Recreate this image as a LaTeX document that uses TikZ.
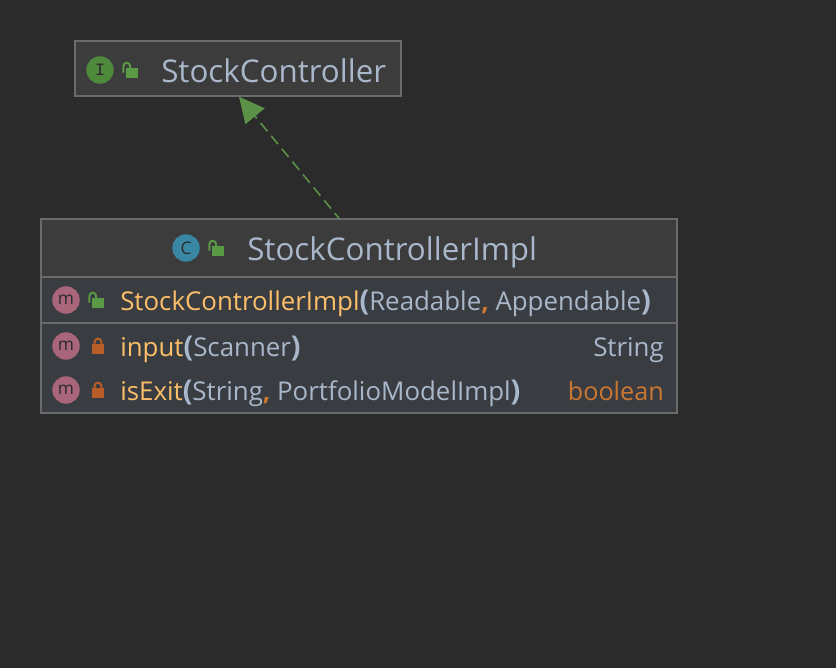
\documentclass[tikz,border=0pt]{standalone}
\usepackage{fontspec}
\setmainfont{Open Sans}
\usetikzlibrary{arrows.meta}
\definecolor{bgdark}{HTML}{2B2B2B}
\definecolor{headfill}{HTML}{3C3C3C}
\definecolor{rowfill}{HTML}{393C40}
\definecolor{edgegrey}{HTML}{6A6A6A}
\definecolor{namegrey}{HTML}{A9B7CB}
\definecolor{methyellow}{HTML}{FCBF6A}
\definecolor{kwdorange}{HTML}{CC7832}
\definecolor{lockgreen}{HTML}{5A9A45}
\definecolor{lockorange}{HTML}{B85C28}
\definecolor{arrowgreen}{HTML}{5C9148}
\definecolor{ifacegreen}{HTML}{4F8A3C}
\definecolor{classteal}{HTML}{3A87A3}
\definecolor{methrose}{HTML}{A9667A}
\tikzset{
  boxpart/.style={draw=edgegrey,line width=1pt,inner sep=0pt},
  headpart/.style={boxpart,fill=headfill},
  rowpart/.style={boxpart,fill=rowfill},
  titletext/.style={inner sep=0pt,anchor=base west,text=namegrey,font=\fontsize{23.5}{28}\selectfont},
  rowtext/.style={inner sep=0pt,anchor=base west,text=namegrey,font=\fontsize{19.4}{23}\selectfont},
  typetext/.style={rowtext,anchor=base east},
  badge/.style={circle,inner sep=0pt,minimum size=20.6pt,text=bgdark,font=\fontsize{13}{15}\selectfont},
  openlock/.pic={
    \fill[lockgreen] (0,0) rectangle (12,-10);
    \draw[lockgreen,line width=1.5pt] (-2.6,-5.5) -- (-2.6,-12) arc[start angle=180,end angle=360,radius=3.3] -- (4,-10);
  },
  closedlock/.pic={
    \fill[lockorange] (0,0) rectangle (12,-10.5);
    \draw[lockorange,line width=1.5pt] (2.6,-10) -- (2.6,-12) arc[start angle=180,end angle=360,radius=3.4] -- (9.4,-10);
  }
}
\newcommand{\nameb}[1]{\textcolor{methyellow}{#1}}
\newcommand{\parb}[1]{{\fontsize{21.5}{23}\selectfont\textbf{#1}}}
\newcommand{\comb}{\textcolor{kwdorange}{\textbf{,}}}
\begin{document}
\begin{tikzpicture}[x=0.75pt,y=-0.75pt]
\fill[bgdark] (0,0) rectangle (836,668);
\useasboundingbox (0,0) rectangle (836,668);
% top box
\node[headpart,minimum width=244.5pt,minimum height=41.25pt] (ctrl) at (238,68.5) {};
\node[badge,fill=ifacegreen] (ctrlicon) at (100,70) {\fontspec{Liberation Mono}I};
\pic at (126,78) {openlock};
\node[titletext] (ctrlname) at (161,82) {StockController};
% bottom box
\node[headpart,minimum width=477pt,minimum height=43.5pt] (impl) at (359,248) {};
\node[rowpart,minimum width=477pt,minimum height=34.5pt] (ctor) at (359,300) {};
\node[rowpart,minimum width=477pt,minimum height=67.5pt] (meth) at (359,368) {};
\node[badge,fill=classteal] (implicon) at (186,248) {C};
\pic at (212,256) {openlock};
\node[titletext] (implname) at (247,260) {StockControllerImpl};
\node[badge,fill=methrose] (ctoricon) at (66,300) {m};
\pic at (92,308) {openlock};
\node[rowtext] (ctorname) at (120,310) {\nameb{StockControllerImpl}\parb{(}Readable\comb{} Appendable\parb{)}};
\node[badge,fill=methrose] (inputicon) at (66,346) {m};
\pic at (92,354) {closedlock};
\node[rowtext] (inputname) at (120,356) {\nameb{input}\parb{(}Scanner\parb{)}};
\node[typetext] (inputtype) at (664,356) {String};
\node[badge,fill=methrose] (exiticon) at (66,390) {m};
\pic at (92,398) {closedlock};
\node[rowtext] (exitname) at (120,400) {\nameb{isExit}\parb{(}String\comb{} PortfolioModelImpl\parb{)}};
\node[typetext,text=kwdorange,font=\fontsize{18.9}{23}\selectfont] (exittype) at (664,400) {boolean};
% realization
\draw[arrowgreen,line width=1.2pt,dash pattern=on 8pt off 4.5pt,dash phase=3pt,-{Triangle[length=19pt,width=18.5pt]}]
  ([xshift=-15pt]impl.north) -- ([xshift=0.75pt]ctrl.south);
\end{tikzpicture}
\end{document}
